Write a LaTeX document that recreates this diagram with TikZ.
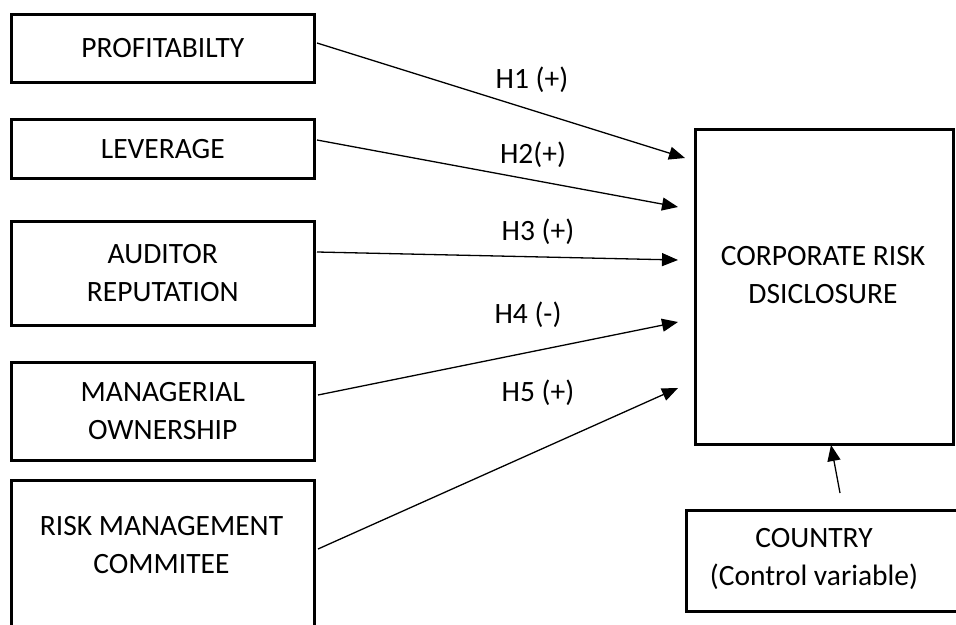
\documentclass[tikz,border=0pt]{standalone}
\usepackage{fontspec}
\setmainfont{Carlito}
\usetikzlibrary{arrows.meta}
\begin{document}
\begin{tikzpicture}[x=1pt,y=-1pt,
  box/.style={draw=black, line width=2.6pt, inner sep=0pt, anchor=north west},
  txt/.style={align=center, font=\fontsize{29.5}{38}\selectfont, inner sep=0pt},
  arr/.style={line width=1.3pt, -{Triangle[length=16pt,width=13pt]}},
  hlab/.style={font=\fontsize{29.5}{38}\selectfont, inner sep=0pt}]
\useasboundingbox (0,0) rectangle (956,624);
\clip (0,0) rectangle (956,624);
% left boxes
\node[box, minimum width=303pt, minimum height=68pt] (P) at (10,13) {};
\node[txt] (Pt) at (P.center) {PROFITABILTY};
\node[box, minimum width=303pt, minimum height=59pt] (L) at (10,118) {};
\node[txt] (Lt) at (L.center) {LEVERAGE};
\node[box, minimum width=303pt, minimum height=104pt] (A) at (10,220) {};
\node[txt] (At) at (A.center) {AUDITOR\\REPUTATION};
\node[box, minimum width=303pt, minimum height=98pt] (M) at (10,361) {};
\node[txt] (Mt) at (M.center) {MANAGERIAL\\OWNERSHIP};
\node[box, minimum width=303pt, minimum height=170pt] (R) at (10,479) {};
\node[txt] (Rt) at (161.5,545) {RISK MANAGEMENT\\COMMITEE};
% right boxes
\node[box, minimum width=258pt, minimum height=315pt] (C) at (694,128) {};
\node[txt] (Ct) at (823,275) {CORPORATE RISK\\DSICLOSURE};
\node[box, minimum width=330pt, minimum height=101pt] (K) at (685,509) {};
\node[txt] (Kt) at (814,559) {COUNTRY\\(Control variable)};
% arrow ends
\coordinate (t1) at (685,158);
\coordinate (t2) at (678,207);
\coordinate (t3) at (678,260);
\coordinate (t4) at (678,322);
\coordinate (t5) at (678,388);
\coordinate (s1) at (317,43);
\coordinate (s2) at (317,140);
\coordinate (s3) at (317,252);
\coordinate (s4) at (318,395);
\coordinate (s5) at (318,549);
\coordinate (sk) at (840,493);
\coordinate (tk) at (831,445);
\draw[arr] (s1) -- (t1);
\draw[arr] (s2) -- (t2);
\draw[arr] (s3) -- (t3);
\draw[arr] (s4) -- (t4);
\draw[arr] (s5) -- (t5);
\draw[arr] (sk) -- (tk);
% labels
\node[hlab] (h1) at (532,80) {H1 (+)};
\node[hlab] (h2) at (533,155) {H2(+)};
\node[hlab] (h3) at (538,232) {H3 (+)};
\node[hlab] (h4) at (528,315) {H4 (-)};
\node[hlab] (h5) at (538,393) {H5 (+)};
\end{tikzpicture}
\end{document}
